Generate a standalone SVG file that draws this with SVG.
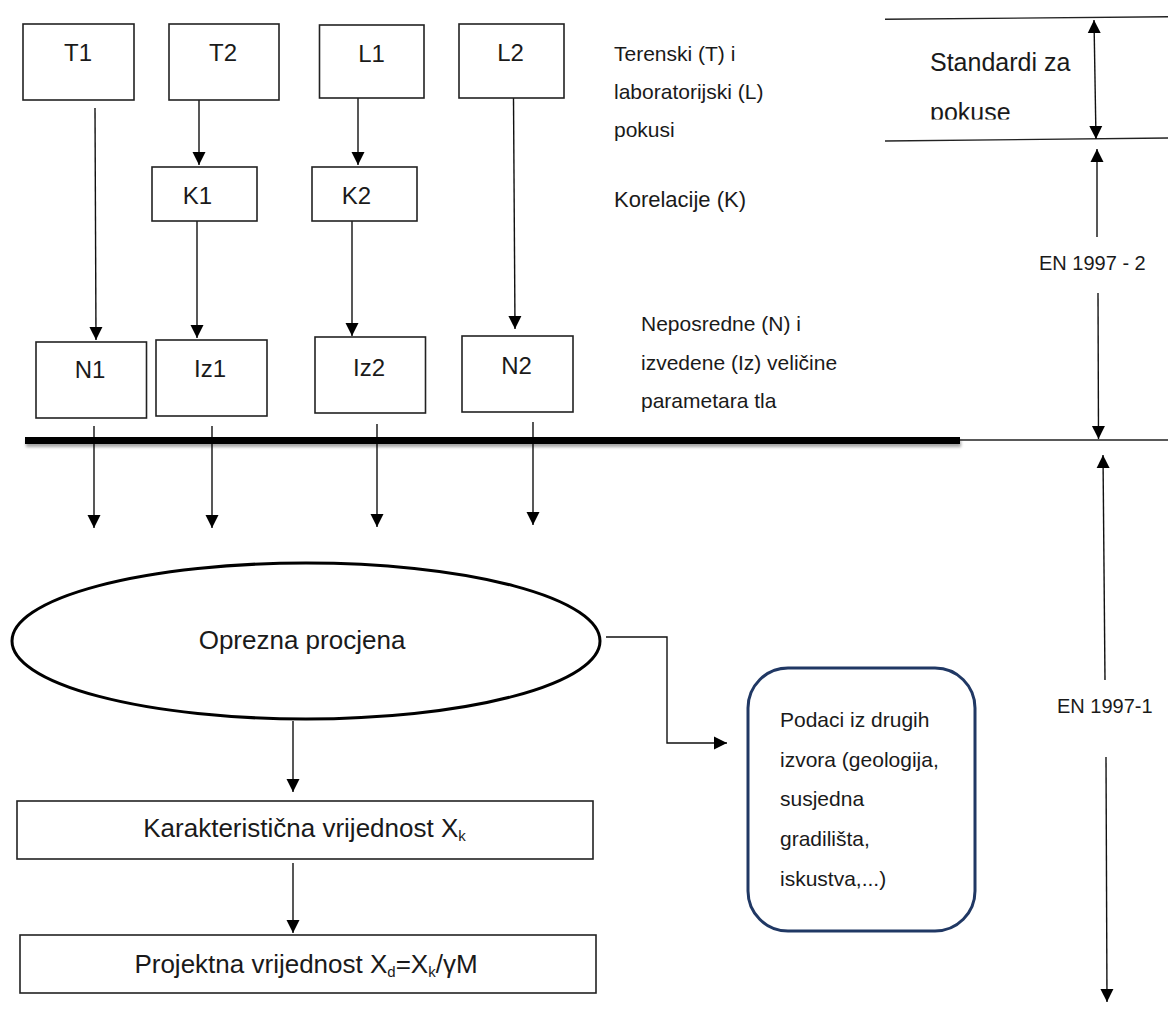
<svg xmlns="http://www.w3.org/2000/svg" width="1168" height="1016" viewBox="0 0 1168 1016">
<defs>
<style>
text{font-family:"Liberation Sans",Arial,sans-serif;fill:#1a1a1a}
.box{fill:#fff;stroke:#222;stroke-width:1.6}
.lbl{font-size:24px;text-anchor:middle}
.big{font-size:26px;text-anchor:middle}
.sm{font-size:21px}
.std{font-size:25px}
.en{font-size:20px}
.ln{fill:none;stroke:#222;stroke-width:1.4}
.arr{fill:none;stroke:#111;stroke-width:1.4;marker-end:url(#ah)}
</style>
<marker id="ah" markerUnits="userSpaceOnUse" markerWidth="14" markerHeight="14" refX="13" refY="7" orient="auto-start-reverse" viewBox="0 0 14 14">
<path d="M0,0.5 L13,7 L0,13.5 z" fill="#000"/>
</marker>
<filter id="sh" filterUnits="userSpaceOnUse" x="0" y="420" width="1000" height="40">
<feDropShadow dx="1" dy="3" stdDeviation="1.5" flood-color="#000" flood-opacity="0.35"/>
</filter>
<clipPath id="clipPokuse"><rect x="900" y="90" width="200" height="29.5"/></clipPath>
</defs>

<g id="connectors">
<line class="arr" x1="199" y1="100" x2="199" y2="165"/>
<line class="arr" x1="358" y1="98" x2="358" y2="165"/>
<line class="arr" x1="95" y1="108" x2="96" y2="340"/>
<line class="arr" x1="197" y1="221" x2="197" y2="338"/>
<line class="arr" x1="352" y1="221" x2="352" y2="336"/>
<line class="arr" x1="513.5" y1="98" x2="515" y2="329"/>
<line class="arr" x1="94" y1="426" x2="94" y2="528"/>
<line class="arr" x1="212" y1="426" x2="212" y2="528"/>
<line class="arr" x1="377" y1="424" x2="377" y2="527"/>
<line class="arr" x1="533" y1="422" x2="533" y2="525"/>
<line class="arr" x1="293" y1="721" x2="293" y2="792"/>
<line class="arr" x1="293" y1="863" x2="293" y2="933"/>
<polyline class="arr" points="606,637 667,637 667,743 727,743"/>
<line class="ln" x1="885" y1="19.3" x2="1168" y2="16.7"/>
<line class="ln" x1="885" y1="141" x2="1168" y2="138"/>
<line class="arr" style="marker-start:url(#ah)" x1="1094" y1="20" x2="1096" y2="139"/>
<line class="arr" x1="1097" y1="237" x2="1097" y2="149"/>
<line class="arr" x1="1098" y1="293" x2="1098.5" y2="439"/>
<line class="ln" x1="960" y1="440" x2="1168" y2="440"/>
<rect x="25" y="437" width="935" height="7" fill="#000" filter="url(#sh)"/>
<line class="arr" x1="1105" y1="680" x2="1103" y2="455"/>
<line class="arr" x1="1106" y1="757" x2="1107" y2="1002"/>
</g>

<g id="T1"><rect class="box" x="23" y="24" width="111" height="76"/><text class="lbl" x="78" y="61">T1</text></g>
<g id="T2"><rect class="box" x="169" y="24" width="110" height="76"/><text class="lbl" x="223" y="61">T2</text></g>
<g id="L1"><rect class="box" x="319.5" y="25" width="104.5" height="73"/><text class="lbl" x="371.5" y="62">L1</text></g>
<g id="L2"><rect class="box" x="459" y="24" width="105" height="74"/><text class="lbl" x="510.5" y="61">L2</text></g>
<g id="K1"><rect class="box" x="152" y="167" width="105" height="54"/><text class="lbl" x="197.5" y="204">K1</text></g>
<g id="K2"><rect class="box" x="312" y="167" width="105" height="54"/><text class="lbl" x="356.5" y="204">K2</text></g>
<g id="N1"><rect class="box" x="36" y="342" width="110.5" height="76"/><text class="lbl" x="90" y="378">N1</text></g>
<g id="Iz1"><rect class="box" x="156" y="340" width="111" height="76"/><text class="lbl" x="210" y="377">Iz1</text></g>
<g id="Iz2"><rect class="box" x="315" y="337" width="110.5" height="76"/><text class="lbl" x="369" y="376">Iz2</text></g>
<g id="N2"><rect class="box" x="462" y="336" width="111" height="76"/><text class="lbl" x="516.5" y="374">N2</text></g>

<g id="label-pokusi">
<text class="sm" x="614" y="61">Terenski (T) i</text>
<text class="sm" x="614" y="99">laboratorijski (L)</text>
<text class="sm" x="614" y="137">pokusi</text>
</g>
<g id="label-korelacije"><text x="614" y="207" style="font-size:22px">Korelacije (K)</text></g>
<g id="label-velicine">
<text class="sm" x="641" y="331">Neposredne (N) i</text>
<text class="sm" x="641" y="370">izvedene (Iz) veličine</text>
<text class="sm" x="641" y="408">parametara tla</text>
</g>
<g id="label-standardi">
<text class="std" x="930" y="71">Standardi za</text>
<text class="std" x="930" y="120.5" clip-path="url(#clipPokuse)">pokuse</text>
</g>
<g id="label-en2"><text class="en" x="1039" y="270">EN 1997 - 2</text></g>
<g id="label-en1"><text class="en" x="1057" y="713">EN 1997-1</text></g>

<g id="oprezna"><ellipse cx="306" cy="641" rx="294" ry="78" fill="#fff" stroke="#000" stroke-width="3"/><text class="big" x="302" y="649">Oprezna procjena</text></g>
<g id="karakteristicna"><rect class="box" x="17" y="801" width="576" height="58"/><text class="big" x="304.5" y="837">Karakteristična vrijednost X<tspan font-size="15" dy="4">k</tspan></text></g>
<g id="projektna"><rect class="box" x="20" y="935" width="576" height="58"/><text class="big" x="306" y="973">Projektna vrijednost X<tspan font-size="15" dy="4">d</tspan><tspan dy="-4">=X</tspan><tspan font-size="15" dy="4">k</tspan><tspan dy="-4">/γM</tspan></text></g>
<g id="podaci"><rect x="748" y="668" width="227" height="263" rx="40" ry="40" fill="#fff" stroke="#203864" stroke-width="3"/>
<text class="sm" x="780" y="727">Podaci iz drugih</text>
<text class="sm" x="780" y="767">izvora (geologija,</text>
<text class="sm" x="780" y="806">susjedna</text>
<text class="sm" x="780" y="846">gradilišta,</text>
<text class="sm" x="780" y="886">iskustva,...)</text>
</g>
</svg>
